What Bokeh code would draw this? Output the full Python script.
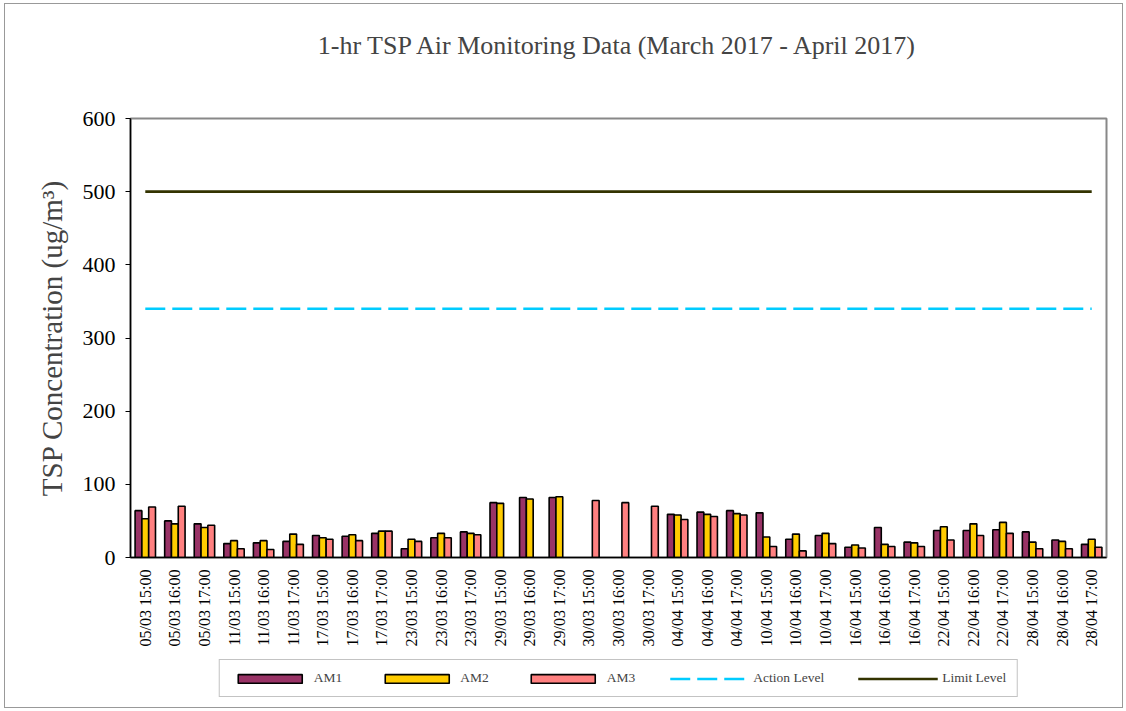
import math
from bokeh.plotting import figure
from bokeh.layouts import column
from bokeh.models import ColumnDataSource, Legend, LegendItem, FixedTicker, Title
from bokeh.transform import dodge
from bokeh.embed import file_html
from bokeh.resources import INLINE

nan = float("nan")

categories = ["05/03 15:00", "05/03 16:00", "05/03 17:00", "11/03 15:00", "11/03 16:00", "11/03 17:00",
              "17/03 15:00", "17/03 16:00", "17/03 17:00", "23/03 15:00", "23/03 16:00", "23/03 17:00",
              "29/03 15:00", "29/03 16:00", "29/03 17:00", "30/03 15:00", "30/03 16:00", "30/03 17:00",
              "04/04 15:00", "04/04 16:00", "04/04 17:00", "10/04 15:00", "10/04 16:00", "10/04 17:00",
              "16/04 15:00", "16/04 16:00", "16/04 17:00", "22/04 15:00", "22/04 16:00", "22/04 17:00",
              "28/04 15:00", "28/04 16:00", "28/04 17:00"]

am1 = [64, 50, 46, 19, 20, 22, 30, 29, 33, 12, 27, 35, 75, 82, 82, nan, nan, nan,
       59, 62, 64, 61, 25, 30, 14, 41, 21, 37, 37, 38, 35, 24, 18]
am2 = [53, 46, 41, 23, 23, 32, 27, 31, 36, 25, 33, 33, 74, 80, 83, nan, nan, nan,
       58, 59, 60, 28, 32, 33, 17, 18, 20, 42, 46, 48, 21, 22, 25]
am3 = [69, 70, 44, 12, 11, 18, 25, 23, 36, 22, 27, 31, nan, nan, nan, 78, 75, 70,
       52, 56, 58, 15, 9, 19, 13, 15, 15, 24, 30, 33, 12, 12, 14]
action_level = [340] * len(categories)
limit_level = [500] * len(categories)

y_ticks = [0, 100, 200, 300, 400, 500, 600]

series_names = ["AM1", "AM2", "AM3", "Action Level", "Limit Level"]
bar_colors = ["#993366", "#FFCC00", "#FF8080"]
action_color = "#00CCFF"
limit_color = "#333300"

source = ColumnDataSource(dict(cat=categories, am1=am1, am2=am2, am3=am3,
                               action=action_level, limit=limit_level))

FONT = "Liberation Serif"
W = 0.23


def draw_series(fig, visible=True):
    rs = [
        fig.vbar(x=dodge("cat", -W, range=fig.x_range), top="am1", width=W, source=source,
                 fill_color=bar_colors[0], line_color="black", line_width=1.6),
        fig.vbar(x=dodge("cat", 0, range=fig.x_range), top="am2", width=W, source=source,
                 fill_color=bar_colors[1], line_color="black", line_width=1.6),
        fig.vbar(x=dodge("cat", W, range=fig.x_range), top="am3", width=W, source=source,
                 fill_color=bar_colors[2], line_color="black", line_width=1.6),
        fig.line(x="cat", y="action", source=source, line_color=action_color,
                 line_width=2.6, line_dash="20 7"),
        fig.line(x="cat", y="limit", source=source, line_color=limit_color, line_width=2.6),
    ]
    for r in rs:
        r.visible = visible
    return rs


p = figure(x_range=categories, y_range=(0, 600), width=1117, height=645, title=None,
           output_backend="svg", toolbar_location=None,
           min_border_left=125, min_border_right=16, min_border_top=114, min_border_bottom=92)

# spacer title (closest to frame) then the real title above it
p.add_layout(Title(text=" ", text_font_size="1px", standoff=56), "above")
p.add_layout(Title(text="1-hr TSP Air Monitoring Data (March 2017 - April 2017)",
                   text_font=FONT, text_font_size="26px", text_font_style="normal",
                   align="center", standoff=0), "above")

draw_series(p)

p.xgrid.visible = False
p.ygrid.visible = False
p.outline_line_color = "#888888"
p.outline_line_width = 2

p.yaxis.ticker = FixedTicker(ticks=y_ticks)
p.yaxis.axis_label = "TSP Concentration (ug/m³)"
p.yaxis.axis_label_text_font = FONT
p.yaxis.axis_label_text_font_size = "29px"
p.yaxis.axis_label_text_font_style = "normal"
p.yaxis.axis_label_standoff = 12
p.yaxis.major_label_text_font = FONT
p.yaxis.major_label_text_font_size = "22px"
p.yaxis.major_label_text_color = "black"
p.yaxis.major_label_standoff = 10
p.yaxis.major_tick_out = 5
p.yaxis.major_tick_in = 0
p.yaxis.minor_tick_line_color = None
p.yaxis.axis_line_color = "black"
p.yaxis.axis_line_width = 1.5

p.xaxis.major_label_orientation = math.pi / 2
p.xaxis.major_label_text_font = FONT
p.xaxis.major_label_text_font_size = "16px"
p.xaxis.major_label_text_color = "black"
p.xaxis.major_label_standoff = 6
p.xaxis.major_tick_line_color = None
p.xaxis.axis_line_color = "black"
p.xaxis.axis_line_width = 1.5

# legend strip: the same series as hidden renderers, only their legend is shown
q = figure(x_range=categories, y_range=(0, 600), width=1117, height=58,
           output_backend="svg", toolbar_location=None,
           min_border_left=0, min_border_right=0, min_border_top=0, min_border_bottom=0)
q.axis.visible = False
q.grid.visible = False
q.outline_line_color = None
legend_renderers = draw_series(q, visible=False)

legend = Legend(items=[LegendItem(label=n, renderers=[r]) for n, r in zip(series_names, legend_renderers)],
                orientation="horizontal", location="center", click_policy="none",
                glyph_width=80, glyph_height=11, label_standoff=4, spacing=34, padding=10,
                label_text_font=FONT, label_text_font_size="13.5px",
                inactive_fill_alpha=0,
                border_line_color="#888888", border_line_width=1,
                background_fill_alpha=0, margin=0)
q.add_layout(legend, "center")

layout = column(p, q, spacing=0)
layout.styles = {"border": "1px solid #999999", "margin": "3px 0 0 4px"}

open("out.html", "w").write(file_html(layout, INLINE))
